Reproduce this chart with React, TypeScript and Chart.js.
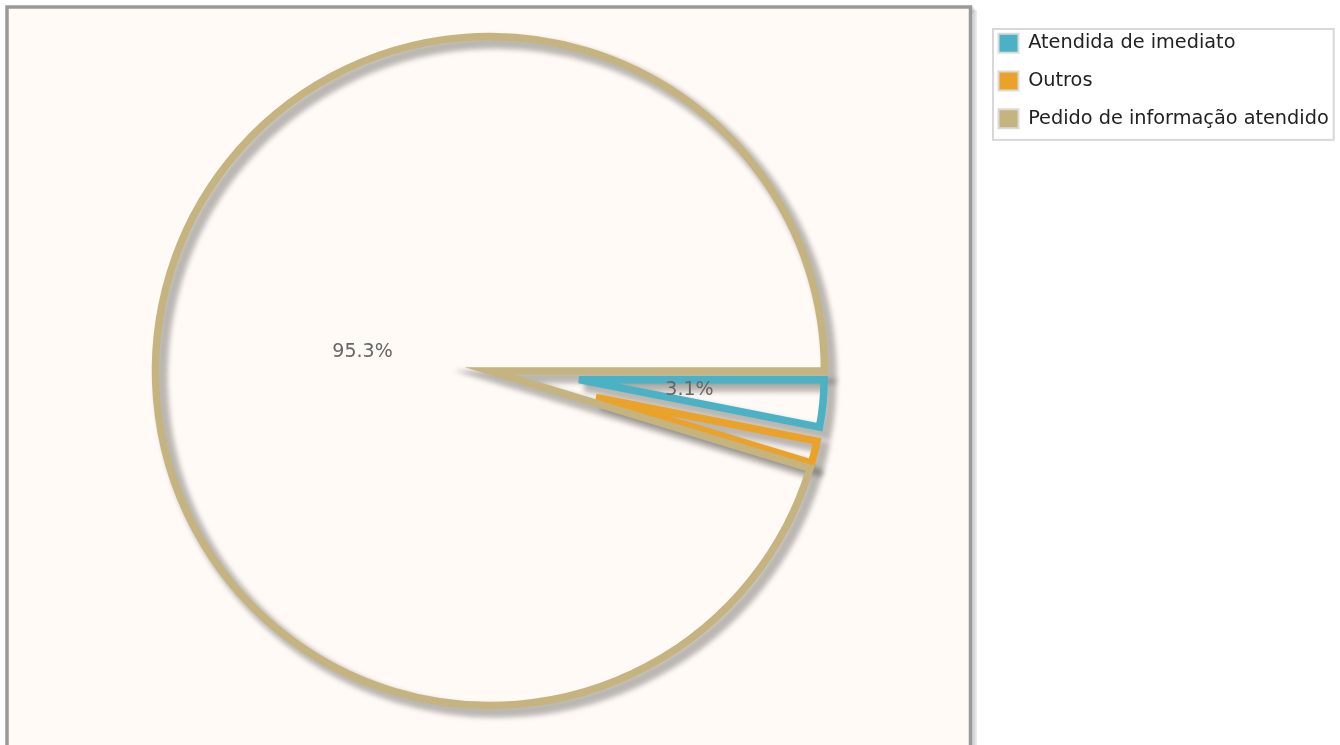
import React, { useEffect, useRef } from 'react';
import { Chart, registerables, ArcElement, PieController } from 'chart.js';

Chart.register(...registerables);

// ---- data ----
const CATEGORIES = ['Atendida de imediato', 'Outros', 'Pedido de informação atendido'];
const SHARES = [3.1, 1.6, 95.3];
const COLORS = ['#4bb2c5', '#eaa228', '#c5b47f'];

// ---- style ----
const FONT_FAMILY = '"DejaVu Sans", Verdana, sans-serif';
const LEGEND_SIZE = 19.3;
const LABEL_SIZE = 19;
const LINE_W = 7.5;
const SLICE_GAP = 22.5;
const GAP_BIAS = 0.157;
const LABEL_POS = 0.2;
const LABEL_PAD = 62;
const LABEL_THRESHOLD = 3;
const PIE_RADIUS = 334.5;
const SHADOW_OFFSET = 6;
const SHADOW_EXTRA_W = 5;
const SHADOW_BLUR = 2.5;
const SHADOW_COLOR = 'rgba(0,0,0,0.27)';

function sliceShift(sweep: number): number {
  return sweep < Math.PI ? SLICE_GAP / Math.sin(sweep / 2 + GAP_BIAS) : 0;
}

class OutlineArc extends ArcElement {
  static id = 'outlineArc';
  geom() {
    const p: any = (this as any).getProps(['x', 'y', 'startAngle', 'endAngle', 'outerRadius']);
    const sweep = p.endAngle - p.startAngle;
    const mid = (p.startAngle + p.endAngle) / 2;
    const t = sliceShift(sweep);
    return {
      vx: p.x + Math.cos(mid) * t,
      vy: p.y + Math.sin(mid) * t,
      r: p.outerRadius - t,
      a0: p.startAngle,
      a1: p.endAngle,
      mid,
      t,
      cx: p.x,
      cy: p.y,
    };
  }
  tracePath(ctx: CanvasRenderingContext2D, dx = 0, dy = 0) {
    const g = this.geom();
    ctx.beginPath();
    ctx.moveTo(g.vx + dx, g.vy + dy);
    ctx.arc(g.vx + dx, g.vy + dy, Math.max(g.r, 0), g.a0, g.a1, false);
    ctx.closePath();
  }
  drawShadow(ctx: CanvasRenderingContext2D) {
    const o: any = (this as any).options;
    ctx.save();
    ctx.lineWidth = o.borderWidth + SHADOW_EXTRA_W;
    ctx.lineJoin = 'miter';
    ctx.miterLimit = 10;
    ctx.strokeStyle = SHADOW_COLOR;
    (ctx as any).filter = `blur(${SHADOW_BLUR}px)`;
    this.tracePath(ctx, SHADOW_OFFSET, SHADOW_OFFSET);
    ctx.stroke();
    ctx.restore();
  }
  draw(ctx: CanvasRenderingContext2D) {
    const o: any = (this as any).options;
    ctx.save();
    ctx.lineWidth = o.borderWidth;
    ctx.lineJoin = 'miter';
    ctx.miterLimit = 10;
    ctx.strokeStyle = o.borderColor;
    this.tracePath(ctx);
    ctx.stroke();
    ctx.restore();
  }
}

class OutlinePieController extends PieController {
  static id = 'outlinePie';
  static defaults = { dataElementType: 'outlineArc' };
  draw() {
    const ctx = (this as any).chart.ctx;
    const meta = (this as any)._cachedMeta;
    for (const el of meta.data) (el as any).drawShadow(ctx);
    super.draw();
  }
}

Chart.register(OutlineArc as any, OutlinePieController as any);

const framePlugin = {
  id: 'plotFrame',
  beforeDraw(chart: any) {
    const ctx = chart.ctx;
    const left = 7, top = 7, right = 970.5, bottom = chart.height + 30;
    ctx.save();
    ctx.lineWidth = 3.5;
    for (let k = 1; k <= 3; k++) {
      ctx.strokeStyle = 'rgba(0,0,0,0.08)';
      ctx.strokeRect(left + k * 1.6, top + k * 1.6, right - left, bottom - top);
    }
    ctx.fillStyle = '#fffaf5';
    ctx.fillRect(left, top, right - left, bottom - top);
    ctx.strokeStyle = '#999999';
    ctx.strokeRect(left, top, right - left, bottom - top);
    ctx.restore();
  },
};

const labelPlugin = {
  id: 'sliceLabels',
  afterDatasetsDraw(chart: any) {
    const meta = chart.getDatasetMeta(0);
    const vals: number[] = chart.data.datasets[0].data;
    const total = vals.reduce((a, b) => a + b, 0);
    const ctx = chart.ctx;
    ctx.save();
    ctx.font = `${LABEL_SIZE}px ${FONT_FAMILY}`;
    ctx.fillStyle = '#666666';
    ctx.textAlign = 'center';
    ctx.textBaseline = 'middle';
    meta.data.forEach((el: any, i: number) => {
      const pct = (vals[i] / total) * 100;
      if (pct < LABEL_THRESHOLD) return;
      const g = el.geom();
      const d = g.t + g.r * LABEL_POS + LABEL_PAD;
      ctx.fillText(pct.toFixed(1) + '%', g.cx + Math.cos(g.mid) * d, g.cy + Math.sin(g.mid) * d);
    });
    ctx.restore();
  },
};

const legendFramePlugin = {
  id: 'legendFrame',
  afterDraw(chart: any) {
    const hb = chart.legend && chart.legend.legendHitBoxes;
    if (!hb || !hb.length) return;
    const left = Math.min(...hb.map((h: any) => h.left)) - 5.5;
    const right = Math.max(...hb.map((h: any) => h.left + h.width)) + 5;
    const top = hb[0].top - 4.5;
    const last = hb[hb.length - 1];
    const bottom = last.top + last.height + 11.5;
    const ctx = chart.ctx;
    ctx.save();
    ctx.strokeStyle = '#d8d8d8';
    ctx.lineWidth = 2;
    ctx.strokeRect(left, top, right - left, bottom - top);
    ctx.restore();
  },
};

export default function App() {
  const ref = useRef<HTMLCanvasElement | null>(null);
  useEffect(() => {
    if (!ref.current) return;
    const m = document.createElement('canvas').getContext('2d') as CanvasRenderingContext2D;
    m.font = `${LEGEND_SIZE}px ${FONT_FAMILY}`;
    const textW = Math.max(...CATEGORIES.map((c) => m.measureText(c).width));
    // legend must start at x = 980 so that the plot centre sits at x = 490
    const padRight = 1340 - 980 - (18.5 + 20 + LEGEND_SIZE / 2 + 10) - textW;

    const chart = new Chart(ref.current, {
      type: 'outlinePie' as any,
      data: {
        labels: CATEGORIES,
        datasets: [
          {
            data: SHARES,
            backgroundColor: COLORS,
            borderColor: COLORS,
            borderWidth: LINE_W,
          },
        ],
      },
      options: {
        responsive: false,
        animation: false,
        devicePixelRatio: 1,
        events: [],
        rotation: 90,
        radius: PIE_RADIUS,
        layout: { padding: { left: 0, right: padRight, top: 15, bottom: 18 } },
        plugins: {
          tooltip: { enabled: false },
          legend: {
            display: true,
            position: 'right',
            align: 'start',
            labels: {
              boxWidth: 20,
              boxHeight: 19,
              padding: 18.5,
              color: '#222222',
              font: { family: FONT_FAMILY, size: LEGEND_SIZE },
              generateLabels: () =>
                CATEGORIES.map((text, i) => ({
                  text,
                  fillStyle: COLORS[i],
                  strokeStyle: '#dadada',
                  lineWidth: 2,
                  hidden: false,
                  index: i,
                  fontColor: '#222222',
                })),
            },
          },
        },
      } as any,
      plugins: [framePlugin, labelPlugin, legendFramePlugin],
    });
    return () => chart.destroy();
  }, []);

  return (
    <div style={{ position: 'fixed', left: 0, top: 0, width: 1340, height: 745, background: '#ffffff', overflow: 'hidden' }}>
      <canvas ref={ref} width={1340} height={745} style={{ display: 'block', width: 1340, height: 745 }} />
    </div>
  );
}
